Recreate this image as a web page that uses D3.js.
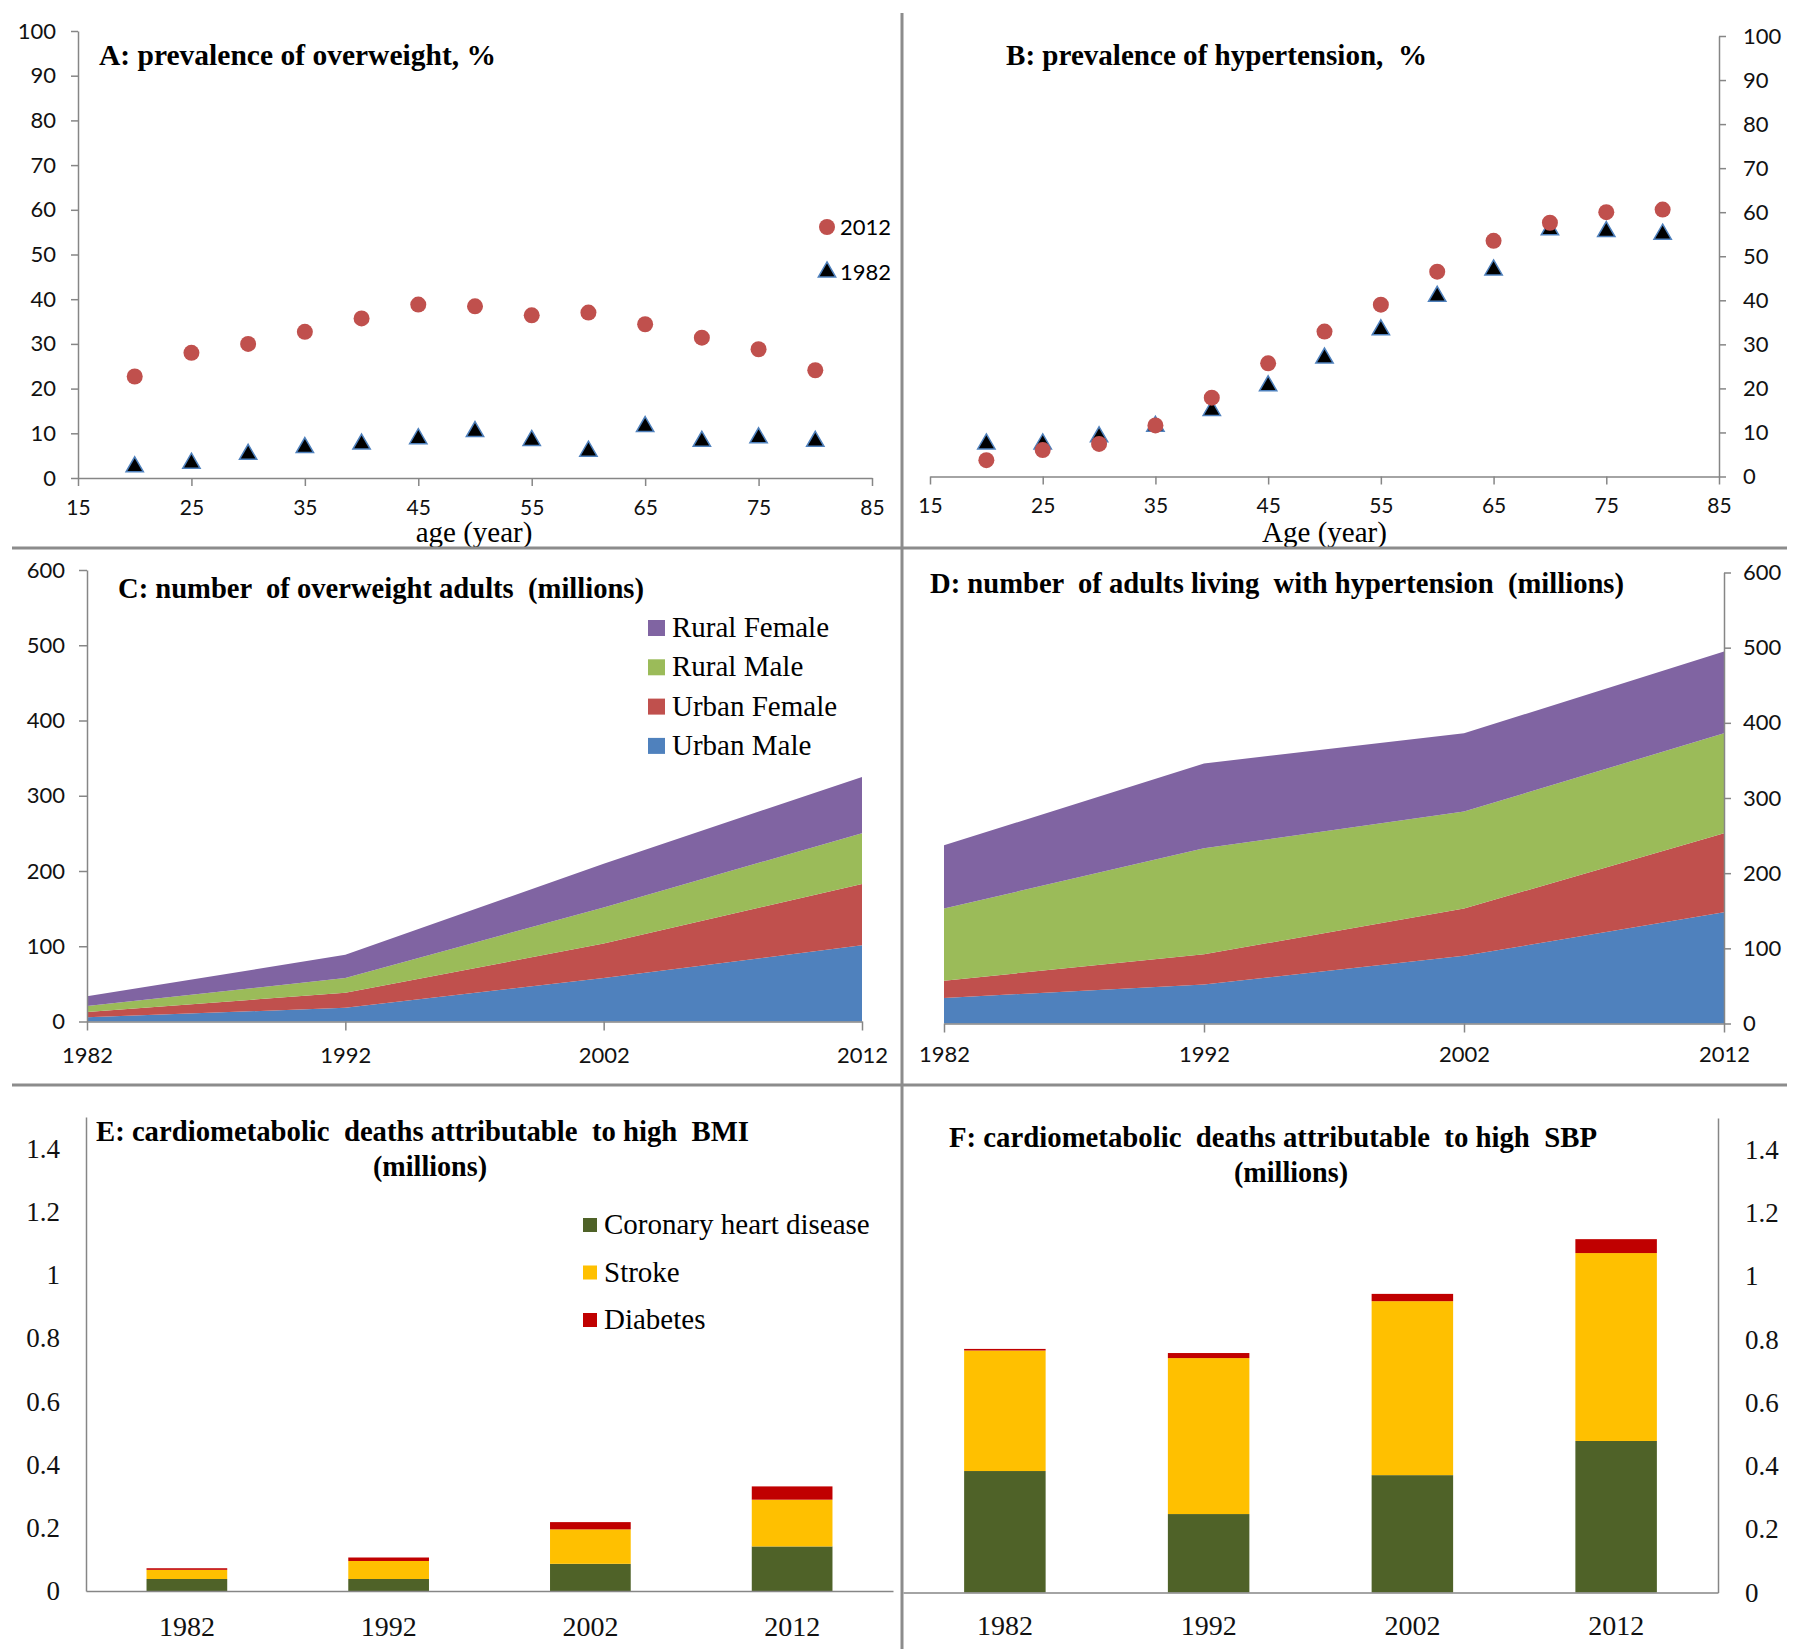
<!DOCTYPE html>
<html>
<head>
<meta charset="utf-8">
<script src="https://cdn.jsdelivr.net/npm/d3@7"></script>
<style>
  body { margin: 0; background: #fff; }
  svg { display: block; }
  text { white-space: pre; }
</style>
</head>
<body>
<div id="chart"></div>
<script>
// six panel figure: overweight / hypertension in China 1982-2012

const width = 1800, height = 1649;

// A and B: prevalence by age (%)
const ages = [20, 25, 30, 35, 40, 45, 50, 55, 60, 65, 70, 75, 80];
const overweight2012 = [22.7, 28.0, 30.0, 32.7, 35.7, 38.8, 38.4, 36.4, 37.0, 34.4, 31.4, 28.8, 24.1];
const overweight1982 = [2.5, 3.3, 5.3, 6.8, 7.6, 8.8, 10.4, 8.4, 6.0, 11.5, 8.2, 9.0, 8.2];
const hypertension2012 = [3.7, 6.0, 7.4, 11.6, 17.9, 25.7, 32.9, 39.0, 46.5, 53.5, 57.6, 60.0, 60.6];
const hypertension1982 = [7.4, 7.4, 9.0, 11.4, 15.0, 20.6, 26.9, 33.3, 40.9, 46.9, 56.0, 55.6, 55.0];
const ageTicks = [15, 25, 35, 45, 55, 65, 75, 85];
const pctTicks = [0, 10, 20, 30, 40, 50, 60, 70, 80, 90, 100];

// C and D: number of adults (millions)
const years = [1982, 1992, 2002, 2012];
const groups = ["Urban Male", "Urban Female", "Rural Male", "Rural Female"];
const overweightUrbanMale = [5.6, 18.2, 57.8, 101.2];
const overweightUrbanFemale = [7.0, 20.0, 45.7, 81.6];
const overweightRuralMale = [7.9, 19.6, 48.0, 67.5];
const overweightRuralFemale = [13.1, 30.8, 58.3, 74.7];
const hyperUrbanMale = [34, 52, 90, 148];
const hyperUrbanFemale = [23, 40, 63, 105];
const hyperRuralMale = [96, 141, 129, 133];
const hyperRuralFemale = [84, 113, 104, 109];
const countTicks = [0, 100, 200, 300, 400, 500, 600];

// E and F: deaths (millions)
const causes = ["Coronary heart disease", "Stroke", "Diabetes"];
const bmiCHD = [0.038, 0.038, 0.086, 0.141];
const bmiStroke = [0.029, 0.057, 0.109, 0.148];
const bmiDiabetes = [0.005, 0.011, 0.023, 0.042];
const sbpCHD = [0.384, 0.248, 0.371, 0.479];
const sbpStroke = [0.381, 0.493, 0.550, 0.594];
const sbpDiabetes = [0.005, 0.016, 0.023, 0.044];
const deathTicks = ["0", "0.2", "0.4", "0.6", "0.8", "1", "1.2", "1.4"];

const groupColors = ["#4F81BD", "#C0504D", "#9BBB59", "#8064A2"];
const causeColors = ["#4F6228", "#FFC000", "#C00000"];
const axisGrey = "#868686";
const sans = "Lato, 'Open Sans', sans-serif";
const serif = "'Liberation Serif', 'Times New Roman', serif";

const svg = d3.select("#chart")
  .append("svg")
  .attr("width", width)
  .attr("height", height)
  .attr("viewBox", [0, 0, width, height]);

// style an axis group after d3 drew it
function styleAxis(g, font, size) {
  g.attr("font-family", font).attr("font-size", size);
  g.select(".domain").attr("stroke", axisGrey).attr("stroke-width", 1.5);
  g.selectAll(".tick line").attr("stroke", axisGrey).attr("stroke-width", 1.5);
  g.selectAll(".tick text").attr("fill", "#111");
}

// bold panel title, stretched to the width seen in the figure
function title(str, x, cy, len, anchor) {
  svg.append("text")
    .attr("x", x).attr("y", cy + 9)
    .attr("text-anchor", anchor || "start")
    .attr("font-family", serif).attr("font-weight", "bold").attr("font-size", 29)
    .attr("textLength", len).attr("lengthAdjust", "spacingAndGlyphs")
    .text(str);
}

// ---------- A & B: scatter ----------
function scatterPanel(o) {
  const x = d3.scaleLinear().domain([15, 85]).range([o.left, o.right]);
  const y = d3.scaleLinear().domain([0, 100]).range([o.bottom, o.top]);

  svg.append("g")
    .attr("transform", `translate(0,${o.bottom})`)
    .call(d3.axisBottom(x).tickValues(ageTicks).tickSize(8).tickSizeOuter(0).tickPadding(14))
    .call(g => styleAxis(g, sans, 21));

  const yAxis = o.side === "left"
    ? d3.axisLeft(y).tickPadding(15)
    : d3.axisRight(y).tickPadding(17);
  svg.append("g")
    .attr("transform", `translate(${o.side === "left" ? o.left : o.right},0)`)
    .call(yAxis.tickValues(pctTicks).tickSize(7).tickSizeOuter(0))
    .call(g => styleAxis(g, sans, 22));

  // 1982 triangles first, 2012 circles on top
  svg.append("g").selectAll("path")
    .data(ages.map((a, i) => [a, o.old[i]]))
    .join("path")
    .attr("transform", d => `translate(${x(d[0])},${y(d[1])})`)
    .attr("d", d3.symbol(d3.symbolTriangle).size(130))
    .attr("fill", "#000")
    .attr("stroke", "#4F81BD")
    .attr("stroke-width", 1.5);

  svg.append("g").selectAll("circle")
    .data(ages.map((a, i) => [a, o.recent[i]]))
    .join("circle")
    .attr("cx", d => x(d[0]))
    .attr("cy", d => y(d[1]))
    .attr("r", 8)
    .attr("fill", "#C0504D");

  svg.append("text")
    .attr("x", (o.left + o.right) / 2 + o.labelShift)
    .attr("y", 542)
    .attr("text-anchor", "middle")
    .attr("font-family", serif).attr("font-size", 29)
    .text(o.xLabel);
}

scatterPanel({ left: 78, right: 872, top: 31, bottom: 478, side: "left",
  recent: overweight2012, old: overweight1982, xLabel: "age (year)", labelShift: -1 });
scatterPanel({ left: 930, right: 1719, top: 36, bottom: 476.5, side: "right",
  recent: hypertension2012, old: hypertension1982, xLabel: "Age (year)", labelShift: 0 });

title("A: prevalence of overweight, %", 99, 56, 397);
title("B: prevalence of hypertension,  %", 1006, 56, 421);

// legend for A
svg.append("circle").attr("cx", 827).attr("cy", 227).attr("r", 8).attr("fill", "#C0504D");
svg.append("path")
  .attr("transform", "translate(827,272)")
  .attr("d", d3.symbol(d3.symbolTriangle).size(130))
  .attr("fill", "#000").attr("stroke", "#4F81BD").attr("stroke-width", 1.5);
svg.append("text").attr("x", 840).attr("y", 235)
  .attr("font-family", sans).attr("font-size", 22).text("2012");
svg.append("text").attr("x", 840).attr("y", 280)
  .attr("font-family", sans).attr("font-size", 22).text("1982");

// ---------- C & D: stacked areas ----------
function areaPanel(o) {
  const table = years.map((yr, i) => {
    const row = { year: yr };
    groups.forEach((g, k) => row[g] = o.series[k][i]);
    return row;
  });
  const stacked = d3.stack().keys(groups)(table);

  const x = d3.scaleLinear().domain([1982, 2012]).range([o.left, o.right]);
  const y = d3.scaleLinear().domain([0, 600]).range([o.bottom, o.top]);

  const area = d3.area()
    .x(d => x(d.data.year))
    .y0(d => y(d[0]))
    .y1(d => y(d[1]));

  svg.append("g").selectAll("path")
    .data(stacked)
    .join("path")
    .attr("d", area)
    .attr("fill", (d, i) => groupColors[i]);

  svg.append("g")
    .attr("transform", `translate(0,${o.bottom})`)
    .call(d3.axisBottom(x).tickValues(years).tickFormat(d3.format("d"))
      .tickSize(9).tickSizeOuter(0).tickPadding(o.xPad))
    .call(g => styleAxis(g, sans, 22));

  const yAxis = o.side === "left"
    ? d3.axisLeft(y).tickSize(8).tickPadding(14)
    : d3.axisRight(y).tickSize(7).tickPadding(12);
  svg.append("g")
    .attr("transform", `translate(${o.side === "left" ? o.left : o.right},0)`)
    .call(yAxis.tickValues(countTicks).tickSizeOuter(0))
    .call(g => styleAxis(g, sans, 22));
}

areaPanel({ left: 87, right: 862, top: 570, bottom: 1021.5, side: "left", xPad: 16.5,
  series: [overweightUrbanMale, overweightUrbanFemale, overweightRuralMale, overweightRuralFemale] });
areaPanel({ left: 944, right: 1724, top: 572.5, bottom: 1023.5, side: "right", xPad: 14,
  series: [hyperUrbanMale, hyperUrbanFemale, hyperRuralMale, hyperRuralFemale] });

title("C: number  of overweight adults  (millions)", 118, 589, 526);
title("D: number  of adults living  with hypertension  (millions)", 930, 584, 694);

// legend for C (top to bottom: last group first)
const legendC = svg.append("g");
groups.slice().reverse().forEach((g, i) => {
  const cy = 628 + i * 39.3;
  legendC.append("rect")
    .attr("x", 648).attr("y", cy - 8).attr("width", 17).attr("height", 16)
    .attr("fill", groupColors[groups.length - 1 - i]);
  legendC.append("text")
    .attr("x", 672).attr("y", cy + 9)
    .attr("font-family", serif).attr("font-size", 29)
    .text(g);
});

// ---------- E & F: stacked bars ----------
function barPanel(o) {
  const table = years.map((yr, i) => {
    const row = { year: yr };
    causes.forEach((c, k) => row[c] = o.series[k][i]);
    return row;
  });
  const stacked = d3.stack().keys(causes)(table);

  const x = d3.scaleBand().domain(years).range([o.left, o.right])
    .paddingInner(0.6).paddingOuter(0.3);
  const y = d3.scaleLinear().domain([0, 1.5]).range([o.bottom, o.top]);

  svg.append("g").selectAll("g")
    .data(stacked)
    .join("g")
    .attr("fill", (d, i) => causeColors[i])
    .selectAll("rect")
    .data(d => d)
    .join("rect")
    .attr("x", d => x(d.data.year))
    .attr("y", d => y(d[1]))
    .attr("height", d => y(d[0]) - y(d[1]))
    .attr("width", x.bandwidth());

  svg.append("g")
    .attr("transform", `translate(0,${o.bottom})`)
    .call(d3.axisBottom(x).tickSize(0).tickPadding(o.xPad))
    .call(g => styleAxis(g, serif, 28));

  const yAxis = o.side === "left" ? d3.axisLeft(y).tickPadding(26) : d3.axisRight(y).tickPadding(27);
  svg.append("g")
    .attr("transform", `translate(${o.side === "left" ? o.left : o.right},0)`)
    .call(yAxis.tickValues(deathTicks.map(Number)).tickFormat((d, i) => deathTicks[i])
      .tickSize(0).tickSizeOuter(0))
    .call(g => styleAxis(g, serif, 27));
}

barPanel({ left: 86, right: 893, top: 1117, bottom: 1591, side: "left", xPad: 25,
  series: [bmiCHD, bmiStroke, bmiDiabetes] });
barPanel({ left: 903, right: 1718, top: 1118, bottom: 1592.5, side: "right", xPad: 23,
  series: [sbpCHD, sbpStroke, sbpDiabetes] });

title("E: cardiometabolic  deaths attributable  to high  BMI", 96, 1132, 653);
title("(millions)", 430, 1167, 114, "middle");
title("F: cardiometabolic  deaths attributable  to high  SBP", 949, 1138, 648);
title("(millions)", 1291, 1173, 114, "middle");

// legend for E
const legendE = svg.append("g");
causes.forEach((c, i) => {
  const cy = 1225 + i * 47.5;
  legendE.append("rect")
    .attr("x", 583).attr("y", cy - 7).attr("width", 14).attr("height", 14)
    .attr("fill", causeColors[i]);
  legendE.append("text")
    .attr("x", 604).attr("y", cy + 9)
    .attr("font-family", serif).attr("font-size", 29)
    .text(c);
});

// ---------- panel separators ----------
const sep = svg.append("g").attr("stroke", "#8c8c8c").attr("stroke-width", 3);
sep.append("line").attr("x1", 902).attr("x2", 902).attr("y1", 13).attr("y2", height);
sep.append("line").attr("x1", 12).attr("x2", 1787).attr("y1", 548).attr("y2", 548);
sep.append("line").attr("x1", 12).attr("x2", 1787).attr("y1", 1085).attr("y2", 1085);
</script>
</body>
</html>
